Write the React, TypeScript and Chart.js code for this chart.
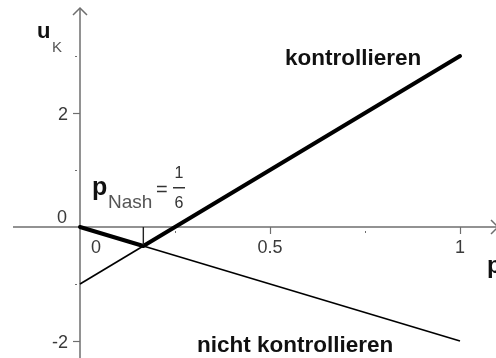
import React, { useEffect, useRef } from "react";
import { Chart, registerables } from "chart.js";

Chart.register(...registerables);

// Data
const pValues = [0, 1];
const kontrollieren = [-1, 3];
const nichtKontrollieren = [0, -2];
const pNash = 1 / 6;
const uNash = -1 / 3;
const bestResponseP = [0, pNash, 1];
const bestResponseU = [0, uNash, 3];
const xTickValues = [0.5, 1];
const xTickLabels = ["0.5", "1"];
const xMinorTicks = [0.25, 0.75];
const yTickValues = [-2, 2];
const yTickLabels = ["-2", "2"];
const yMinorTicks = [-1, 1, 3];

const FONT = '"Liberation Sans", Arial, Helvetica, sans-serif';

const axesPlugin = {
  id: "geoAxes",
  beforeDatasetsDraw(chart: any) {
    const { ctx } = chart;
    const xs = chart.scales.x;
    const ys = chart.scales.y;
    const x0 = xs.getPixelForValue(0);
    const y0 = ys.getPixelForValue(0);
    ctx.save();
    ctx.strokeStyle = "#6e6e6e";
    ctx.lineWidth = 1.5;
    // x axis
    ctx.beginPath();
    ctx.moveTo(13, y0);
    ctx.lineTo(chart.width + 2, y0);
    ctx.stroke();
    ctx.beginPath();
    ctx.moveTo(chart.width - 5, y0 - 7);
    ctx.lineTo(chart.width + 2, y0);
    ctx.lineTo(chart.width - 5, y0 + 7);
    ctx.stroke();
    // y axis
    ctx.beginPath();
    ctx.moveTo(x0, chart.height);
    ctx.lineTo(x0, 8);
    ctx.stroke();
    ctx.beginPath();
    ctx.moveTo(x0 - 7, 15);
    ctx.lineTo(x0, 8);
    ctx.lineTo(x0 + 7, 15);
    ctx.stroke();
    // major ticks
    ctx.lineWidth = 1.2;
    xTickValues.forEach((v) => {
      const px = Math.round(xs.getPixelForValue(v)) + 0.5;
      ctx.beginPath();
      ctx.moveTo(px, y0);
      ctx.lineTo(px, y0 + 7);
      ctx.stroke();
    });
    yTickValues.forEach((v) => {
      const py = Math.round(ys.getPixelForValue(v)) + 0.5;
      ctx.beginPath();
      ctx.moveTo(x0 - 7, py);
      ctx.lineTo(x0, py);
      ctx.stroke();
    });
    // minor ticks (dots)
    ctx.fillStyle = "#6e6e6e";
    xMinorTicks.forEach((v) => {
      const px = Math.round(xs.getPixelForValue(v));
      ctx.fillRect(px, y0 + 4, 1, 2);
    });
    yMinorTicks.forEach((v) => {
      const py = Math.round(ys.getPixelForValue(v));
      ctx.fillRect(x0 - 5, py, 2, 1);
    });
    // tick labels
    ctx.fillStyle = "#3a3a3a";
    ctx.font = `18px ${FONT}`;
    ctx.textBaseline = "alphabetic";
    ctx.textAlign = "center";
    xTickValues.forEach((v, i) => {
      ctx.fillText(xTickLabels[i], xs.getPixelForValue(v), y0 + 26);
    });
    ctx.fillText("0", x0 + 16, y0 + 26);
    ctx.textAlign = "right";
    yTickValues.forEach((v, i) => {
      ctx.fillText(yTickLabels[i], x0 - 12, ys.getPixelForValue(v) + 7);
    });
    ctx.fillText("0", x0 - 13, y0 - 4);
    ctx.restore();
  },
  afterDatasetsDraw(chart: any) {
    const { ctx } = chart;
    const xs = chart.scales.x;
    const ys = chart.scales.y;
    const x0 = xs.getPixelForValue(0);
    const y0 = ys.getPixelForValue(0);
    ctx.save();
    ctx.textBaseline = "alphabetic";
    ctx.textAlign = "left";
    // axis labels
    ctx.fillStyle = "#111";
    ctx.font = `bold 22px ${FONT}`;
    ctx.fillText("u", x0 - 43, 38);
    ctx.fillStyle = "#555";
    ctx.font = `15px ${FONT}`;
    ctx.fillText("K", x0 - 28, 52);
    ctx.fillStyle = "#111";
    ctx.font = `bold 24px ${FONT}`;
    ctx.fillText("p", 487, y0 + 46);
    // curve labels
    ctx.font = `bold 22.5px ${FONT}`;
    ctx.fillText("kontrollieren", 285, 65);
    ctx.fillText("nicht kontrollieren", 197, 352);
    // p_Nash = 1/6
    ctx.font = `bold 25px ${FONT}`;
    ctx.fillText("p", 92, 195);
    ctx.fillStyle = "#555";
    ctx.font = `19px ${FONT}`;
    ctx.fillText("Nash", 108, 208);
    ctx.fillStyle = "#333";
    ctx.font = `20px ${FONT}`;
    ctx.fillText("=", 156, 196);
    ctx.textAlign = "center";
    ctx.font = `16px ${FONT}`;
    ctx.fillText("1", 179, 178);
    ctx.fillText("6", 179, 208);
    ctx.fillRect(173, 187, 12, 1.5);
    ctx.restore();
  },
};

export default function App() {
  const ref = useRef<HTMLCanvasElement>(null);
  useEffect(() => {
    if (!ref.current) return;
    const chart = new Chart(ref.current, {
      type: "scatter",
      data: {
        datasets: [
          {
            label: "kontrollieren",
            data: pValues.map((p, i) => ({ x: p, y: kontrollieren[i] })),
            showLine: true,
            borderColor: "#000",
            borderWidth: 1.6,
            pointRadius: 0,
          },
          {
            label: "nicht kontrollieren",
            data: pValues.map((p, i) => ({ x: p, y: nichtKontrollieren[i] })),
            showLine: true,
            borderColor: "#000",
            borderWidth: 1.6,
            pointRadius: 0,
          },
          {
            label: "pNash",
            data: [
              { x: pNash, y: 0 },
              { x: pNash, y: uNash },
            ],
            showLine: true,
            borderColor: "#222",
            borderWidth: 1.4,
            pointRadius: 0,
          },
          {
            label: "beste Antwort",
            data: bestResponseP.map((p, i) => ({ x: p, y: bestResponseU[i] })),
            showLine: true,
            borderColor: "#000",
            borderWidth: 4,
            borderCapStyle: "round",
            borderJoinStyle: "round",
            pointRadius: 0,
          },
        ],
      },
      options: {
        animation: false,
        responsive: false,
        layout: { padding: 0 },
        plugins: { legend: { display: false }, tooltip: { enabled: false } },
        scales: {
          x: { type: "linear", display: false, min: -80 / 380, max: 416 / 380 },
          y: { type: "linear", display: false, min: -131 / 57, max: 227 / 57 },
        },
      },
      plugins: [axesPlugin],
    } as any);
    return () => chart.destroy();
  }, []);
  return (
    <div style={{ position: "absolute", left: 0, top: 0, width: 496, height: 358, background: "#fff" }}>
      <canvas ref={ref} width={496} height={358} style={{ width: 496, height: 358 }} />
    </div>
  );
}
